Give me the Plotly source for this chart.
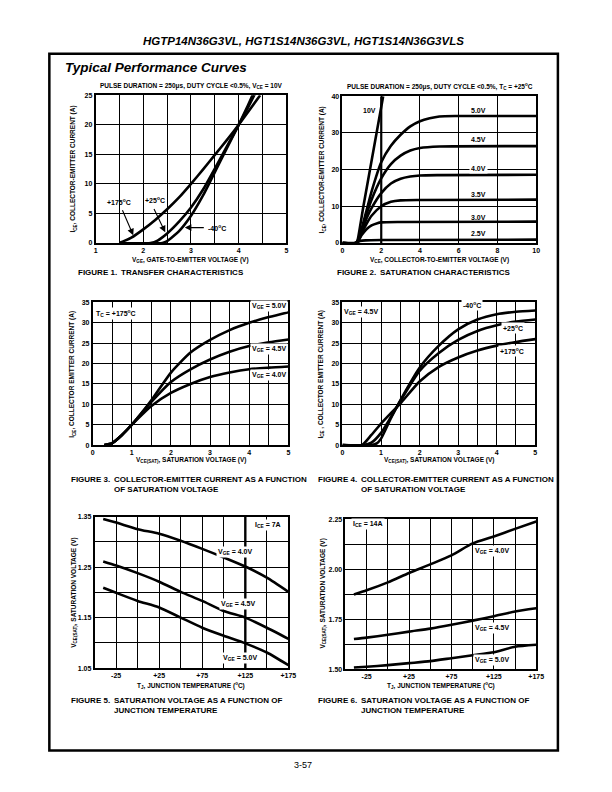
import plotly.graph_objects as go

# ---------------- DATA ----------------
# Figure 1: transfer characteristics (VGE vs ICE)
F1_VGE_175 = [1.5, 1.75, 2.0, 2.25, 2.5, 2.75, 3.0, 3.25, 3.5, 3.75, 4.0, 4.2, 4.45]
F1_ICE_175 = [0.0, 0.9, 2.3, 3.9, 5.7, 7.7, 10.0, 12.4, 14.9, 17.4, 20.0, 22.2, 25.0]
F1_VGE_25 = [1.5, 2.15, 2.3, 2.5, 2.75, 3.0, 3.25, 3.5, 3.75, 4.0, 4.2, 4.4]
F1_ICE_25 = [0.0, 0.0, 0.4, 1.6, 3.6, 6.0, 9.0, 12.6, 16.3, 20.0, 23.0, 26.2]
F1_VGE_M40 = [1.5, 2.4, 2.5, 2.75, 3.0, 3.25, 3.5, 3.75, 4.0, 4.2, 4.4]
F1_ICE_M40 = [0.0, 0.0, 0.3, 2.0, 4.6, 8.0, 12.0, 16.0, 20.0, 23.4, 27.0]

# Figure 2: saturation characteristics (VCE vs ICE) per VGE
F2_VCE_10 = [0.0, 0.7, 0.8, 1.08, 2.1]
F2_ICE_10 = [0.0, 0.0, 1.2, 10.0, 40.0]
F2_VCE_50 = [0.0, 0.7, 0.85, 1.0, 1.25, 1.5, 2.0, 2.5, 3.0, 3.5, 4.0, 4.5, 5.0, 6.0, 10.0]
F2_ICE_50 = [0.0, 0.0, 1.0, 4.0, 9.0, 14.0, 22.0, 26.5, 29.5, 31.8, 33.2, 34.0, 34.5, 34.6, 34.6]
F2_VCE_45 = [0.0, 0.7, 0.85, 1.0, 1.25, 1.5, 2.0, 2.5, 3.0, 3.5, 4.0, 5.0, 10.0]
F2_ICE_45 = [0.0, 0.0, 1.0, 3.6, 8.0, 11.8, 17.6, 21.5, 23.8, 25.2, 25.9, 26.3, 26.4]
F2_VCE_40 = [0.0, 0.7, 0.85, 1.0, 1.25, 1.5, 2.0, 2.5, 3.0, 3.5, 4.0, 5.0, 10.0]
F2_ICE_40 = [0.0, 0.0, 1.0, 3.2, 6.8, 9.5, 13.6, 16.2, 17.5, 18.1, 18.4, 18.5, 18.6]
F2_VCE_35 = [0.0, 0.7, 0.85, 1.0, 1.25, 1.5, 2.0, 2.5, 3.0, 4.0, 10.0]
F2_ICE_35 = [0.0, 0.0, 1.0, 2.8, 5.3, 7.4, 10.0, 11.2, 11.6, 11.7, 11.8]
F2_VCE_30 = [0.0, 0.7, 0.85, 1.0, 1.25, 1.5, 1.8, 2.0, 3.0, 10.0]
F2_ICE_30 = [0.0, 0.0, 0.9, 2.2, 3.8, 4.8, 5.4, 5.6, 5.7, 5.8]
F2_VCE_25 = [0.0, 0.7, 0.9, 1.2, 2.0, 10.0]
F2_ICE_25 = [0.0, 0.0, 0.5, 0.7, 0.8, 0.9]

# Figure 3: ICE vs VCE(SAT) at Tc = +175C
F3_VCE = [0.3, 0.5, 0.75, 1.0, 1.5, 2.0, 2.5, 3.0, 3.5, 4.0, 4.5, 5.0]
F3_ICE_50 = [0.0, 0.5, 2.5, 5.0, 11.0, 17.8, 22.7, 25.8, 28.2, 30.0, 31.4, 32.6]
F3_ICE_45 = [0.0, 0.5, 2.5, 5.0, 10.6, 15.5, 18.6, 21.0, 22.9, 24.3, 25.2, 25.9]
F3_ICE_40 = [0.0, 0.5, 2.5, 5.0, 9.6, 12.8, 15.0, 16.7, 17.8, 18.6, 19.0, 19.3]

# Figure 4: ICE vs VCE(SAT) at VGE = 4.5V per temperature
F4_VCE_M40 = [0.0, 0.75, 0.9, 1.0, 1.25, 1.5, 2.0, 2.5, 3.0, 3.5, 4.0, 4.5, 5.0]
F4_ICE_M40 = [0.0, 0.0, 0.5, 1.6, 6.5, 11.0, 19.0, 24.4, 28.4, 30.8, 32.1, 32.7, 33.0]
F4_VCE_25 = [0.0, 0.55, 0.75, 1.0, 1.25, 1.5, 2.0, 2.5, 3.0, 3.5, 4.0, 4.5, 5.0]
F4_ICE_25 = [0.0, 0.0, 0.6, 3.0, 6.8, 10.8, 18.2, 22.6, 25.8, 28.0, 29.4, 30.3, 30.8]
F4_VCE_175 = [0.0, 0.5, 0.75, 1.0, 1.25, 1.5, 2.0, 2.5, 3.0, 3.5, 4.0, 4.5, 5.0]
F4_ICE_175 = [0.0, 0.0, 2.5, 5.3, 7.8, 10.2, 15.6, 19.2, 21.5, 23.2, 24.4, 25.3, 26.0]

# Figure 5: VCE(SAT) vs TJ at ICE = 7A
F5_TJ = [-40, -25, 0, 25, 50, 75, 100, 125, 150, 175]
F5_V_40 = [1.345, 1.338, 1.325, 1.316, 1.302, 1.286, 1.269, 1.251, 1.229, 1.201]
F5_V_45 = [1.261, 1.253, 1.238, 1.221, 1.201, 1.183, 1.163, 1.150, 1.130, 1.108]
F5_V_50 = [1.209, 1.199, 1.183, 1.170, 1.150, 1.130, 1.114, 1.099, 1.081, 1.056]

# Figure 6: VCE(SAT) vs TJ at ICE = 14A
F6_TJ = [-40, -25, 0, 25, 50, 75, 100, 125, 150, 175]
F6_V_40 = [1.874, 1.895, 1.935, 1.982, 2.025, 2.070, 2.130, 2.165, 2.203, 2.240]
F6_V_45 = [1.651, 1.658, 1.672, 1.688, 1.703, 1.722, 1.743, 1.765, 1.789, 1.805]
F6_V_50 = [1.508, 1.512, 1.520, 1.530, 1.540, 1.555, 1.570, 1.585, 1.612, 1.622]

TEMP_TICKS = [-25, 25, 75, 125, 175]
TEMP_LABELS = ["-25", "+25", "+75", "+125", "+175"]

# ---------------- LAYOUT HELPERS ----------------
W, H = 612, 792
OFF = 8  # page body margin of the html page
FONT = "Liberation Sans, Arial, Helvetica, sans-serif"
CAP = "Liberation Sans, Arial, Helvetica, sans-serif"


def px(x):
    return (x - OFF) / W


def py(y):
    return 1 - (y - OFF) / H


# plot areas in page pixels: (left, right, top, bottom)
AREAS = {
    1: (95, 289, 92, 241),
    2: (346, 543, 93, 241),
    3: (92, 291, 301, 445),
    4: (346, 542, 301, 445),
    5: (94, 291, 517, 670),
    6: (349, 543, 520, 671),
}

fig = go.Figure()

LW = 2.6


def add_curve(n, xs, ys, smooth=0.6):
    fig.add_trace(go.Scatter(
        x=xs, y=ys, mode="lines",
        line=dict(color="black", width=LW, shape="spline", smoothing=smooth),
        xaxis=f"x{n}", yaxis=f"y{n}", showlegend=False, hoverinfo="skip"))


add_curve(1, F1_VGE_175, F1_ICE_175)
add_curve(1, F1_VGE_25, F1_ICE_25)
add_curve(1, F1_VGE_M40, F1_ICE_M40)

add_curve(2, F2_VCE_10, F2_ICE_10, 0.3)
add_curve(2, F2_VCE_50, F2_ICE_50)
add_curve(2, F2_VCE_45, F2_ICE_45)
add_curve(2, F2_VCE_40, F2_ICE_40)
add_curve(2, F2_VCE_35, F2_ICE_35)
add_curve(2, F2_VCE_30, F2_ICE_30)
add_curve(2, F2_VCE_25, F2_ICE_25)

add_curve(3, F3_VCE, F3_ICE_50)
add_curve(3, F3_VCE, F3_ICE_45)
add_curve(3, F3_VCE, F3_ICE_40)

add_curve(4, F4_VCE_M40, F4_ICE_M40)
add_curve(4, F4_VCE_25, F4_ICE_25)
add_curve(4, F4_VCE_175, F4_ICE_175)

add_curve(5, F5_TJ, F5_V_40)
add_curve(5, F5_TJ, F5_V_45)
add_curve(5, F5_TJ, F5_V_50)

add_curve(6, F6_TJ, F6_V_40)
add_curve(6, F6_TJ, F6_V_45)
add_curve(6, F6_TJ, F6_V_50)

tickfont = dict(family=FONT, size=7, color="black", weight="bold")
GRID = dict(showgrid=True, gridcolor="black", gridwidth=1.2)


def axis_common():
    return dict(showline=True, linecolor="black", linewidth=1.6, mirror=True,
                showgrid=True, gridcolor="black", gridwidth=1.2,
                zeroline=False, ticks="", tickfont=tickfont, fixedrange=True)


AXES = {
    1: (dict(range=[1, 5], dtick=1, tick0=1, minor=dict(dtick=0.5, **GRID)),
        dict(range=[0, 25], dtick=5)),
    2: (dict(range=[0, 10], dtick=2),
        dict(range=[0, 40], dtick=10)),
    3: (dict(range=[0, 5], dtick=1, minor=dict(dtick=0.5, **GRID)),
        dict(range=[0, 35], dtick=5)),
    4: (dict(range=[0, 5], dtick=1, minor=dict(dtick=0.5, **GRID)),
        dict(range=[0, 35], dtick=5)),
    5: (dict(range=[-50, 175], tickvals=TEMP_TICKS, ticktext=TEMP_LABELS,
             minor=dict(tick0=-50, dtick=25, **GRID)),
        dict(range=[1.05, 1.35], tickvals=[1.05, 1.15, 1.25, 1.35], ticktext=["1.05", "1.15", "1.25", "1.35"],
             minor=dict(tick0=1.05, dtick=0.05, **GRID))),
    6: (dict(range=[-50, 175], tickvals=TEMP_TICKS, ticktext=TEMP_LABELS,
             minor=dict(tick0=-50, dtick=25, **GRID)),
        dict(range=[1.5, 2.25], tickvals=[1.5, 1.75, 2.0, 2.25], ticktext=["1.50", "1.75", "2.00", "2.25"],
             minor=dict(tick0=1.5, dtick=0.125, **GRID))),
}

layout_axes = {}
for n, (l, r, t, b) in AREAS.items():
    xa, ya = AXES[n]
    xd = axis_common(); xd.update(xa)
    yd = axis_common(); yd.update(ya)
    xd.update(domain=[px(l), px(r)], anchor=f"y{n}")
    yd.update(domain=[py(b), py(t)], anchor=f"x{n}")
    layout_axes[f"xaxis{n}"] = xd
    layout_axes[f"yaxis{n}"] = yd

fig.update_layout(
    width=W, height=H, margin=dict(l=0, r=0, t=0, b=0),
    paper_bgcolor="white", plot_bgcolor="white", showlegend=False,
    font=dict(family=FONT, size=7, color="black"),
    **layout_axes)

anns = []


def ptext(x, y, text, size=7, family=FONT, xanchor="center", yanchor="middle", angle=0,
          italic=False, weight="bold"):
    anns.append(dict(x=px(x), y=py(y), xref="paper", yref="paper", text=text, showarrow=False,
                     xanchor=xanchor, yanchor=yanchor, textangle=angle,
                     font=dict(family=family, size=size, color="black", weight=weight,
                               style="italic" if italic else "normal")))


def dtext(n, x, y, text, xanchor="center", bg=None):
    d = dict(x=x, y=y, xref=f"x{n}", yref=f"y{n}", text=text, showarrow=False,
             xanchor=xanchor, yanchor="middle",
             font=dict(family=FONT, size=7, color="black", weight="bold"))
    if bg:
        d.update(bgcolor=bg, borderpad=1)
    anns.append(d)


def arrow(n, x, y, ax, ay):
    anns.append(dict(x=x, y=y, ax=ax, ay=ay, xref=f"x{n}", yref=f"y{n}", axref=f"x{n}", ayref=f"y{n}",
                     text="", showarrow=True, arrowhead=2, arrowsize=1.2, arrowwidth=1.1, arrowcolor="black"))


def caption(x, y, num, lines):
    ptext(x, y, f"FIGURE {num}.", size=8, family=CAP, xanchor="left")
    for i, ln in enumerate(lines):
        ptext(x + 44, y + 10 * i, ln, size=8, family=CAP, xanchor="left")


# page header
ptext(306, 37, "HGTP14N36G3VL, HGT1S14N36G3VL, HGT1S14N36G3VLS", size=11.5, italic=True)
ptext(62, 64, "Typical Performance Curves", size=13.5, xanchor="left", italic=True)
ptext(306, 768, "3-57", size=9, weight="normal")

# Figure 1
ptext(192, 83, "PULSE DURATION = 250\u03bcs, DUTY CYCLE &lt;0.5%, V<sub>CE</sub> = 10V", size=6.5)
ptext(72, 166, "I<sub>CE</sub>, COLLECTOR-EMITTER CURRENT (A)", size=6.5, angle=-90)
ptext(192, 258, "V<sub>GE</sub>, GATE-TO-EMITTER VOLTAGE (V)", size=6.5)
caption(75, 271, 1, ["TRANSFER CHARACTERISTICS"])
dtext(1, 1.5, 6.9, "+175<sup>o</sup>C")
dtext(1, 2.25, 7.2, "+25<sup>o</sup>C")
dtext(1, 3.32, 2.6, "-40<sup>o</sup>C", xanchor="left")
arrow(1, 1.79, 1.3, 1.55, 5.8)
arrow(1, 2.46, 1.8, 2.21, 6.0)
arrow(1, 2.87, 2.6, 3.3, 2.6)

# Figure 2
ptext(445, 83, "PULSE DURATION = 250\u03bcs, DUTY CYCLE &lt;0.5%, T<sub>C</sub> = +25<sup>o</sup>C", size=6.5)
ptext(325, 167, "I<sub>CE</sub>, COLLECTOR-EMITTER CURRENT (A)", size=6.5, angle=-90)
ptext(445, 258, "V<sub>CE</sub>, COLLECTOR-TO-EMITTER VOLTAGE (V)", size=6.5)
caption(338, 271, 2, ["SATURATION CHARACTERISTICS"])
dtext(2, 1.4, 36.0, "10V")
dtext(2, 7.0, 36.1, "5.0V")
dtext(2, 7.0, 28.2, "4.5V")
dtext(2, 7.0, 20.4, "4.0V", bg="white")
dtext(2, 7.0, 13.2, "3.5V")
dtext(2, 7.0, 7.0, "3.0V")
dtext(2, 7.0, 2.6, "2.5V")

# Figure 3
ptext(71, 373, "I<sub>CE</sub>, COLLECTOR EMITTER CURRENT (A)", size=6.5, angle=-90)
ptext(192, 460, "V<sub>CE(SAT)</sub>, SATURATION VOLTAGE (V)", size=6.5)
caption(68, 480, 3, ["COLLECTOR-EMITTER CURRENT AS A FUNCTION", "OF SATURATION VOLTAGE"])
dtext(3, 0.6, 32.3, "T<sub>C</sub> = +175<sup>o</sup>C", bg="white")
dtext(3, 4.5, 34.0, "V<sub>GE</sub> = 5.0V", bg="white")
dtext(3, 4.5, 23.6, "V<sub>GE</sub> = 4.5V", bg="white")
dtext(3, 4.5, 17.3, "V<sub>GE</sub> = 4.0V", bg="white")

# Figure 4
ptext(324, 373, "I<sub>CE</sub> , COLLECTOR EMITTER CURRENT (A)", size=6.5, angle=-90)
ptext(444, 460, "V<sub>CE(SAT)</sub>, SATURATION VOLTAGE (V)", size=6.5)
caption(319, 480, 4, ["COLLECTOR-EMITTER CURRENT AS A FUNCTION", "OF SATURATION VOLTAGE"])
dtext(4, 0.48, 32.6, "V<sub>GE</sub> = 4.5V", bg="white")
dtext(4, 3.37, 34.3, "-40<sup>o</sup>C", bg="white")
dtext(4, 4.43, 28.8, "+25<sup>o</sup>C", bg="white")
dtext(4, 4.39, 23.1, "+175<sup>o</sup>C", bg="white")

# Figure 5
ptext(73, 594, "V<sub>CE(SAT)</sub>, SATURATION VOLTAGE (V)", size=6.5, angle=-90)
ptext(192, 688, "T<sub>J</sub>, JUNCTION TEMPERATURE (<sup>o</sup>C)", size=6.5)
caption(68, 703, 5, ["SATURATION VOLTAGE AS A FUNCTION OF", "JUNCTION TEMPERATURE"])
dtext(5, 151, 1.334, "I<sub>CE</sub> = 7A", bg="white")
dtext(5, 113, 1.279, "V<sub>GE</sub> = 4.0V", bg="white")
dtext(5, 117, 1.177, "V<sub>GE</sub> = 4.5V", bg="white")
dtext(5, 119, 1.070, "V<sub>GE</sub> = 5.0V", bg="white")

# Figure 6
ptext(326, 595, "V<sub>CE(SAT)</sub>, SATURATION VOLTAGE (V)", size=6.5, angle=-90)
ptext(446, 688, "T<sub>J</sub>, JUNCTION TEMPERATURE (<sup>o</sup>C)", size=6.5)
caption(319, 703, 6, ["SATURATION VOLTAGE AS A FUNCTION OF", "JUNCTION TEMPERATURE"])
dtext(6, -43, 2.225, "I<sub>CE</sub> = 14A", xanchor="left", bg="white")
dtext(6, 123, 2.093, "V<sub>GE</sub> = 4.0V", bg="white")
dtext(6, 123, 1.704, "V<sub>GE</sub> = 4.5V", bg="white")
dtext(6, 123, 1.546, "V<sub>GE</sub> = 5.0V", bg="white")

fig.update_layout(annotations=anns)

# outer frame and emphasised grid lines
shapes = [
    dict(type="rect", xref="paper", yref="paper", x0=px(48), x1=px(565), y0=py(753), y1=py(50),
         line=dict(color="black", width=2.5), fillcolor="rgba(0,0,0,0)", layer="above"),
    dict(type="line", xref="x2", yref="y2", x0=2, x1=2, y0=0, y1=40, line=dict(color="black", width=2.2), layer="below"),
    dict(type="line", xref="x5", yref="y5", x0=125, x1=125, y0=1.05, y1=1.35, line=dict(color="black", width=2.4), layer="below"),
]
fig.update_layout(shapes=shapes)

fig.write_html("out.html")
